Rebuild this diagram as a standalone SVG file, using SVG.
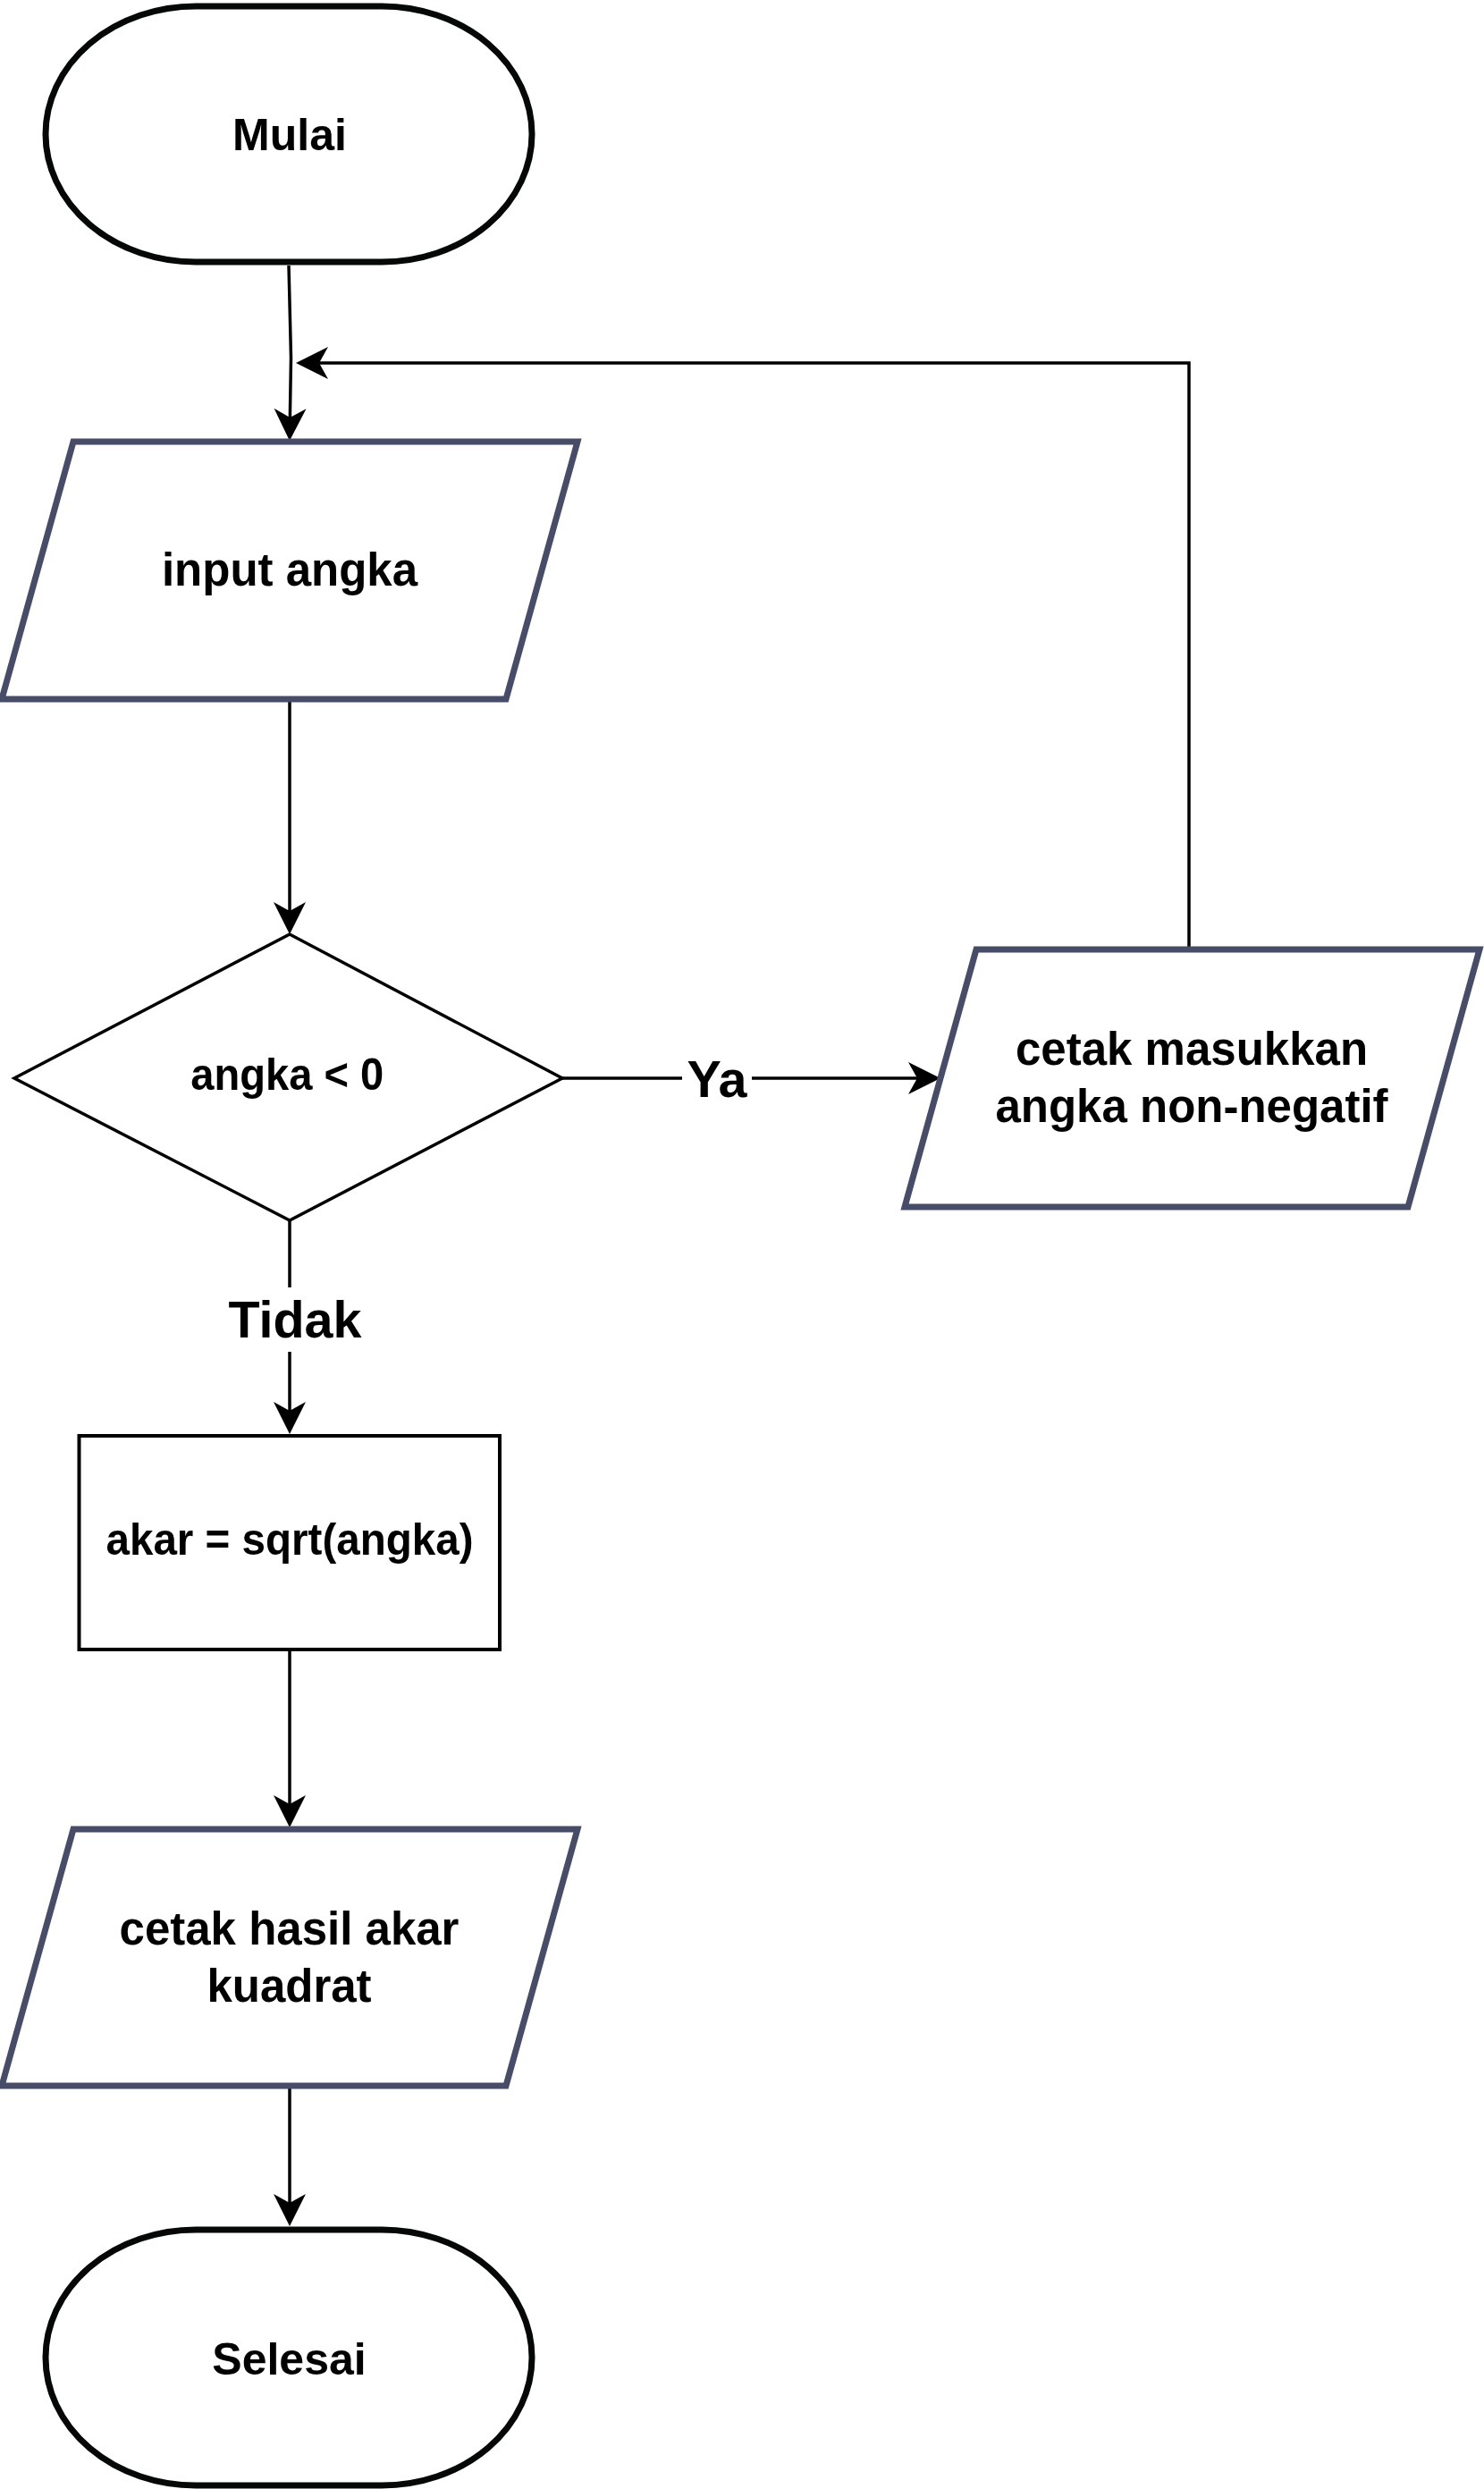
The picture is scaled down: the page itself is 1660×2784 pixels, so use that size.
<svg xmlns="http://www.w3.org/2000/svg" width="1660" height="2784" viewBox="0 0 1660 2784">
<style>
text{font-family:"Liberation Sans",Arial,sans-serif;font-weight:bold;fill:#000;text-anchor:middle}
.term{fill:#fff;stroke:#050807;stroke-width:7}
.io{fill:#fff;stroke:#474d68;stroke-width:7;stroke-linejoin:miter}
.proc{fill:#fff;stroke:#000;stroke-width:4}
.dec{fill:#fff;stroke:#000;stroke-width:3.5}
.edge{fill:none;stroke:#000;stroke-width:3.5;marker-end:url(#arr)}
.node{font-size:51px}
.lbl{font-size:57.5px}
</style>
<defs>
<marker id="arr" markerUnits="userSpaceOnUse" viewBox="-40 -20 44 40" markerWidth="44" markerHeight="40" refX="-4" refY="0" orient="auto">
<path d="M0,0 L-36,-18 L-26,0 L-36,18 Z" fill="#000"/>
</marker>
</defs>
<rect width="1660" height="2784" fill="#fff"/>
<g id="connectors">
<path class="edge" d="M323,297 L325.5,400 L324,489"/>
<path class="edge" d="M324,785 L324,1041"/>
<path class="edge" d="M1330,1059 L1330,406 L335,406"/>
<path class="edge" d="M629,1206 L1048,1206"/>
<path class="edge" d="M324,1365 L324,1600"/>
<path class="edge" d="M324,1847 L324,2040"/>
<path class="edge" d="M324,2336 L324,2486"/>
<g id="label-ya">
<rect x="763" y="1180" width="78" height="58" fill="#fff"/>
<text class="lbl" x="802" y="1227">Ya</text>
</g>
<g id="label-tidak">
<rect x="252" y="1440" width="156" height="72" fill="#fff"/>
<text class="lbl" x="330" y="1496">Tidak</text>
</g>
</g>
<g id="mulai">
<rect class="term" x="51" y="7" width="544" height="286" rx="168" ry="143"/>
<text x="324" y="167.5" style="font-size:50px">Mulai</text>
</g>
<g id="input-angka">
<polygon class="io" points="82,494 646,494 566,782 2,782"/>
<text class="node" x="324" y="655">input angka</text>
</g>
<g id="cek-angka">
<polygon class="dec" points="324,1045 629,1206 324,1365 16,1206"/>
<text x="321.3" y="1219.3" style="font-size:50px" textLength="216" lengthAdjust="spacingAndGlyphs">angka &lt; 0</text>
</g>
<g id="cetak-peringatan">
<polygon class="io" points="1092,1062 1655,1062 1575,1350 1012,1350"/>
<text class="node" x="1333" y="1191">cetak masukkan</text>
<text class="node" x="1333" y="1255">angka non-negatif</text>
</g>
<g id="hitung-akar">
<rect class="proc" x="88.5" y="1606" width="470.5" height="239"/>
<text x="324" y="1739" style="font-size:50px" textLength="411" lengthAdjust="spacingAndGlyphs">akar = sqrt(angka)</text>
</g>
<g id="cetak-hasil">
<polygon class="io" points="82,2046 646,2046 566,2333 2,2333"/>
<text class="node" x="323.5" y="2175">cetak hasil akar</text>
<text class="node" x="323.5" y="2239">kuadrat</text>
</g>
<g id="selesai">
<rect class="term" x="51" y="2494" width="544" height="286" rx="168" ry="143"/>
<text x="323.5" y="2656" style="font-size:50px">Selesai</text>
</g>
</svg>
